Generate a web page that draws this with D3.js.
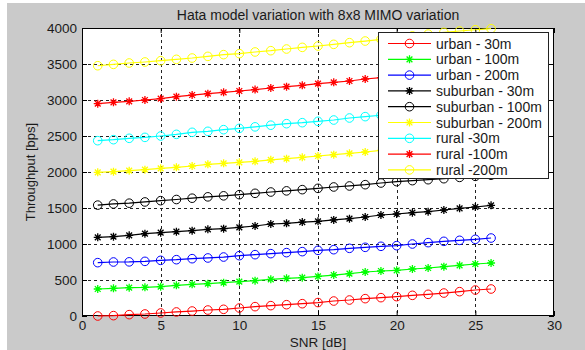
<!DOCTYPE html>
<html>
<head>
<meta charset="utf-8">
<script src="https://cdn.jsdelivr.net/npm/d3@7"></script>
<style>
  html, body { margin: 0; padding: 0; background: #ffffff; }
  svg { display: block; }
  text { font-family: "Liberation Sans", Arial, sans-serif; fill: #1a1a1a; }
</style>
</head>
<body>
<svg id="chart" width="585" height="350"></svg>
<script>
// Throughput vs SNR for the Hata propagation model, 8x8 MIMO
const snr = [1, 2, 3, 4, 5, 6, 7, 8, 9, 10, 11, 12, 13, 14, 15, 16, 17, 18, 19, 20, 21, 22, 23, 24, 25, 26];

const urban30     = [0, 5, 19, 28, 42, 56, 69, 83, 93, 111, 130, 144, 157, 171, 187, 208, 222, 241, 255, 269, 287, 301, 319, 338, 361, 375];
const urban100    = [375, 384, 394, 398, 407, 426, 440, 449, 463, 477, 491, 509, 523, 532, 550, 569, 588, 611, 625, 634, 653, 667, 685, 704, 722, 736];
const urban200    = [741, 750, 752, 759, 773, 782, 796, 806, 819, 838, 852, 866, 880, 894, 912, 921, 940, 954, 968, 977, 1000, 1019, 1037, 1051, 1065, 1083];
const suburban30  = [1093, 1102, 1120, 1144, 1157, 1171, 1185, 1204, 1213, 1231, 1250, 1278, 1287, 1304, 1315, 1335, 1352, 1375, 1403, 1417, 1435, 1449, 1472, 1495, 1514, 1537];
const suburban100 = [1540, 1556, 1567, 1584, 1602, 1618, 1636, 1655, 1669, 1685, 1704, 1722, 1738, 1755, 1773, 1792, 1806, 1824, 1847, 1866, 1880, 1893, 1907, 1925, 1940, 1955];
const suburban200 = [1995, 2005, 2019, 2032, 2051, 2065, 2083, 2106, 2120, 2134, 2148, 2169, 2185, 2204, 2222, 2241, 2259, 2278, 2300, 2318, 2336, 2355, 2373, 2392, 2410, 2428];
const rural30     = [2435, 2449, 2468, 2481, 2500, 2523, 2551, 2565, 2588, 2606, 2627, 2650, 2671, 2685, 2704, 2722, 2750, 2769, 2788, 2808, 2828, 2847, 2866, 2886, 2905, 2925];
const rural100    = [2949, 2968, 2981, 3000, 3019, 3046, 3069, 3088, 3106, 3125, 3145, 3167, 3185, 3204, 3227, 3245, 3264, 3292, 3310, 3330, 3350, 3369, 3388, 3408, 3427, 3446];
const rural200    = [3476, 3495, 3514, 3528, 3546, 3565, 3583, 3606, 3630, 3644, 3667, 3685, 3708, 3731, 3750, 3773, 3796, 3819, 3843, 3865, 3890, 3915, 3940, 3958, 3976, 3990];

const seriesNames  = ["urban - 30m", "urban - 100m", "urban - 200m", "suburban - 30m", "suburban - 100m", "suburban - 200m", "rural -30m", "rural -100m", "rural -200m"];
const seriesValues = [urban30, urban100, urban200, suburban30, suburban100, suburban200, rural30, rural100, rural200];
const seriesColors = ["#ff0000", "#00ff00", "#0000ff", "#000000", "#000000", "#ffff00", "#00ffff", "#ff0000", "#ffff00"];
const seriesMarks  = ["circle", "star", "circle", "star", "circle", "star", "circle", "star", "circle"];

const xTicks = [0, 5, 10, 15, 20, 25, 30];
const yTicks = [0, 500, 1000, 1500, 2000, 2500, 3000, 3500, 4000];

const titleText = "Hata model variation with 8x8 MIMO variation";
const xLabel = "SNR [dB]";
const yLabel = "Throughput [bps]";

// Layout
const W = 585, H = 350;
const plot = { left: 82, right: 554, top: 28, bottom: 316 };

const svg = d3.select("#chart");

// Figure background
svg.append("rect").attr("x", 0).attr("y", 0).attr("width", W).attr("height", H).attr("fill", "#ffffff");
svg.append("rect").attr("x", 7).attr("y", 3).attr("width", W - 7).attr("height", H - 3).attr("fill", "#cacaca");

const x = d3.scaleLinear().domain([0, 30]).range([plot.left, plot.right]);
const y = d3.scaleLinear().domain([0, 4000]).range([plot.bottom, plot.top]);

// Axes area
svg.append("rect")
  .attr("x", plot.left).attr("y", plot.top)
  .attr("width", plot.right - plot.left).attr("height", plot.bottom - plot.top)
  .attr("fill", "#ffffff");

// Dotted grid
const grid = svg.append("g").attr("stroke", "#222").attr("stroke-width", 1).attr("stroke-dasharray", "3,3");
grid.selectAll("line.gx").data(xTicks.slice(1, -1)).join("line")
  .attr("x1", d => Math.round(x(d)) + 0.5).attr("x2", d => Math.round(x(d)) + 0.5)
  .attr("y1", plot.top).attr("y2", plot.bottom);
grid.selectAll("line.gy").data(yTicks.slice(1, -1)).join("line")
  .attr("y1", d => Math.round(y(d)) + 0.5).attr("y2", d => Math.round(y(d)) + 0.5)
  .attr("x1", plot.left).attr("x2", plot.right);

// Axes with inward ticks on all four sides
const tickLen = 5;
const fmt = d3.format("d");
const axB = svg.append("g").attr("transform", `translate(0,${plot.bottom})`)
  .call(d3.axisBottom(x).tickValues(xTicks).tickFormat(fmt).tickSizeInner(-tickLen).tickSizeOuter(0).tickPadding(4));
const axT = svg.append("g").attr("transform", `translate(0,${plot.top})`)
  .call(d3.axisTop(x).tickValues(xTicks).tickSizeInner(-tickLen).tickSizeOuter(0).tickFormat(""));
const axL = svg.append("g").attr("transform", `translate(${plot.left},0)`)
  .call(d3.axisLeft(y).tickValues(yTicks).tickFormat(fmt).tickSizeInner(-tickLen).tickSizeOuter(0).tickPadding(5));
const axR = svg.append("g").attr("transform", `translate(${plot.right},0)`)
  .call(d3.axisRight(y).tickValues(yTicks).tickSizeInner(-tickLen).tickSizeOuter(0).tickFormat(""));

[axB, axT, axL, axR].forEach(a => {
  a.select(".domain").remove();
  a.selectAll(".tick line").attr("stroke", "#000");
  a.selectAll("text").attr("font-size", 13.5).attr("fill", "#1a1a1a")
    .attr("font-family", '"Liberation Sans", Arial, sans-serif');
});

// Plot box
svg.append("rect")
  .attr("x", plot.left + 0.5).attr("y", plot.top + 0.5)
  .attr("width", plot.right - plot.left - 1).attr("height", plot.bottom - plot.top - 1)
  .attr("fill", "none").attr("stroke", "#000").attr("stroke-width", 1);

// Marker helpers
function starPath(r) {
  const d = r * 0.72;
  return `M${-r},0L${r},0M0,${-r}L0,${r}M${-d},${-d}L${d},${d}M${-d},${d}L${d},${-d}`;
}
function drawMarker(g, kind, color) {
  if (kind === "circle") {
    g.append("circle").attr("r", 4.3).attr("fill", "none").attr("stroke", color).attr("stroke-width", 1);
  } else {
    g.append("path").attr("d", starPath(4)).attr("fill", "none").attr("stroke", color).attr("stroke-width", 1.3);
  }
}

// Series
const line = d3.line().x((d, i) => x(snr[i])).y(d => y(d));
seriesValues.forEach((vals, s) => {
  const g = svg.append("g").attr("class", "series");
  g.append("path").datum(vals).attr("d", line)
    .attr("fill", "none").attr("stroke", seriesColors[s]).attr("stroke-width", 1.2);
  g.selectAll("g.m").data(vals).join("g")
    .attr("transform", (d, i) => `translate(${x(snr[i])},${y(d)})`)
    .each(function () { drawMarker(d3.select(this), seriesMarks[s], seriesColors[s]); });
});

// Legend
const leg = { x: 378, y: 32, w: 170, h: 146, row0: 43.5, step: 15.8 };
const lg = svg.append("g");
lg.append("rect").attr("x", leg.x + 0.5).attr("y", leg.y + 0.5).attr("width", leg.w).attr("height", leg.h)
  .attr("fill", "#ffffff").attr("stroke", "#222").attr("stroke-width", 1);
seriesNames.forEach((name, s) => {
  const cy = leg.row0 + s * leg.step;
  lg.append("line").attr("x1", 388).attr("x2", 431).attr("y1", cy).attr("y2", cy)
    .attr("stroke", seriesColors[s]).attr("stroke-width", 1.2);
  const m = lg.append("g").attr("transform", `translate(409.5,${cy})`);
  drawMarker(m, seriesMarks[s], seriesColors[s]);
  lg.append("text").attr("x", 436).attr("y", cy).attr("dy", "0.36em")
    .attr("font-size", 14).text(name);
});

// Title and axis labels
svg.append("text").attr("x", (plot.left + plot.right) / 2).attr("y", 20)
  .attr("text-anchor", "middle").attr("font-size", 14).text(titleText);
svg.append("text").attr("x", (plot.left + plot.right) / 2).attr("y", 347)
  .attr("text-anchor", "middle").attr("font-size", 13.5).text(xLabel);
svg.append("text").attr("transform", `translate(35,${(plot.top + plot.bottom) / 2}) rotate(-90)`)
  .attr("text-anchor", "middle").attr("font-size", 13).text(yLabel);
</script>
</body>
</html>
